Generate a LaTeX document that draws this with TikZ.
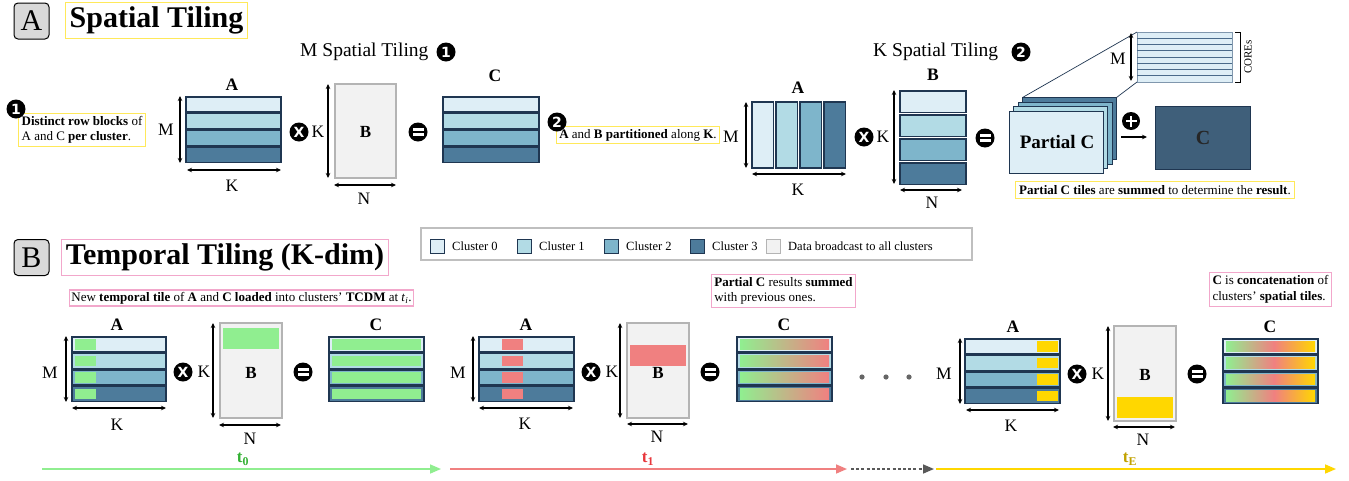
\documentclass[tikz,border=0pt]{standalone}
\usepackage{fontspec}
\setmainfont{Liberation Serif}
\newfontfamily\dv{DejaVu Sans}
\usetikzlibrary{arrows.meta,calc}
\definecolor{cA}{HTML}{DEEEF6}
\definecolor{cB}{HTML}{B2DBE5}
\definecolor{cC}{HTML}{7EB5CB}
\definecolor{cD}{HTML}{4D7B9B}
\definecolor{edge}{HTML}{1F3651}
\definecolor{bfill}{HTML}{F2F2F2}
\definecolor{bedge}{HTML}{B4B4B4}
\definecolor{yel}{HTML}{FFE95A}
\definecolor{pnk}{HTML}{F2A7CB}
\definecolor{grn}{HTML}{90EE90}
\definecolor{cor}{HTML}{F08080}
\definecolor{gld}{HTML}{FFD700}
\definecolor{bigc}{HTML}{3F5F7A}
\definecolor{tilel}{HTML}{4A6A8A}
\definecolor{tzero}{HTML}{34B134}
\definecolor{tone}{HTML}{E8383D}
\definecolor{tend}{HTML}{C2A200}
\pgfdeclarehorizontalshading{gcg}{100bp}{color(0bp)=(grn); color(25bp)=(grn); color(52bp)=(cor); color(75bp)=(gld); color(100bp)=(gld)}
% rows: x, y, width, row height
\newcommand\MyRows[4]{%
  \foreach \i/\c in {0/cA,1/cB,2/cC,3/cD}
    \draw[rowst, fill=\c] (#1,{#2+\i*#4+0.75}) rectangle ++(#3,{#4-1.5});}
% patches inside rows: x, y, patch x, patch width, row height, colour
\newcommand\MyPatch[6]{%
  \foreach \i in {0,1,2,3}
    \fill[#6] (#3,{#2+\i*#5+3}) rectangle ++(#4,{#5-6});}
\begin{document}
\begin{tikzpicture}[x=1pt,y=-1pt,
  rowst/.style={draw=edge, line width=1.5pt},
  bbox/.style={draw=bedge, fill=bfill, line width=1.3pt},
  dim/.style={{Stealth[length=5pt,width=4.5pt]}-{Stealth[length=5pt,width=4.5pt]}, line width=1.1pt},
  lab/.style={font=\fontsize{17.5}{18}\selectfont, inner sep=0pt},
  mlab/.style={font=\fontsize{17.5}{18}\selectfont\bfseries, inner sep=0pt},
  opc/.style={circle, fill=black, inner sep=0pt, minimum size=19pt, text=white},
  num/.style={circle, fill=black, inner sep=0pt, minimum size=19pt, text=white, font=\dv\bfseries\fontsize{14}{14}\selectfont},
  sect/.style={draw=black, fill=black!15, rounded corners=4pt, line width=1pt, minimum width=35pt, minimum height=36pt, inner sep=0pt, font=\fontsize{30}{30}\selectfont},
  ttl/.style={line width=1.2pt, inner sep=4pt, font=\fontsize{30}{34}\selectfont\bfseries},
  note/.style={line width=1.1pt, inner sep=3pt, font=\fontsize{13}{15.5}\selectfont, align=left},
  legsq/.style={draw=edge, line width=1pt, minimum size=14pt, inner sep=0pt},
  legt/.style={font=\fontsize{12.5}{14}\selectfont, anchor=west, inner sep=0pt},
  tl/.style={line width=1.6pt, -{Triangle[length=11pt,width=9pt]}}
]
\useasboundingbox (0,0) rectangle (1349,480);
\fill[white] (0,0) rectangle (1349,480);
\newcommand\OpX[2]{\node[opc, font=\dv\bfseries\fontsize{14}{14}\selectfont] (#1) at #2 {X};}
\newcommand\OpEq[2]{\node[opc] (#1) at #2 {}; \fill[white] ($(#1)+(-5.5,-4)$) rectangle ($(#1)+(5.5,-1.2)$); \fill[white] ($(#1)+(-5.5,1.2)$) rectangle ($(#1)+(5.5,4)$);}

%================ SECTION A =================
\node[sect] (secA) at (31.5,21) {A};
\node[ttl, draw=yel] (ttlA) at (156.5,20.5) {Spatial Tiling};

\node[font=\fontsize{19.5}{20}\selectfont, inner sep=0pt, anchor=west] (mst) at (300,52) {M Spatial Tiling};
\node[num] (mstn) at (446,52) {1};

% note 1
\node[note, draw=yel] (n1) at (82,130) {\textbf{Distinct row blocks} of\\A and C \textbf{per cluster}.};
\node[num] (n1n) at (16,109) {1};

% A
\node[mlab] (aA) at (232,85) {A};
\MyRows{186}{96}{95}{16.75}
\draw[dim] (180,96) -- (180,163);
\node[lab] (aM) at (166,130) {M};
\draw[dim] (187,170) -- (281,170);
\node[lab] (aK) at (232,186) {K};
\OpX{ax}{(299,132)}
\node[lab] (aK2) at (318,132) {K};
% B
\draw[bbox] (335,84) rectangle (396,178);
\node[mlab, font=\fontsize{17}{18}\selectfont\bfseries] (aB) at (365.5,132) {B};
\draw[dim] (328,84) -- (328,178);
\draw[dim] (334,185) -- (396,185);
\node[lab] (aN) at (364,199) {N};
\OpEq{aeq}{(418,132)}
% C
\node[mlab] (aC) at (495,76) {C};
\MyRows{443}{96}{96}{16.75}

% note 2
\node[note, draw=yel, inner sep=2.5pt] (n2) at (638,135) {\textbf{A} and \textbf{B partitioned} along \textbf{K}.};
\node[num] (n2n) at (557,122) {2};

\node[font=\fontsize{19.5}{20}\selectfont, inner sep=0pt, anchor=west] (kst) at (873,52) {K Spatial Tiling};
\node[num] (kstn) at (1021,52) {2};

% A (K tiling)
\node[mlab] (kA) at (798,88) {A};
\foreach \j/\c in {0/cA,1/cB,2/cC,3/cD}
  \draw[draw=edge, line width=1.2pt, fill=\c] ({752+\j*24},102) rectangle ++(21.5,66);
\draw[dim] (746,102) -- (746,168);
\node[lab] (kM) at (731,137) {M};
\draw[dim] (752,174) -- (846,174);
\node[lab] (kK) at (798,190) {K};
\OpX{kx}{(864,137)}
\node[lab] (kK2) at (883,137) {K};
% B (K tiling)
\node[mlab] (kB) at (933,75) {B};
\foreach \i/\c in {0/cA,1/cB,2/cC,3/cD}
  \draw[draw=edge, line width=1.2pt, fill=\c] (900,{91+\i*24}) rectangle ++(66,21.5);
\draw[dim] (894,90) -- (894,184);
\draw[dim] (900,190) -- (962,190);
\node[lab] (kN) at (932,203) {N};
\OpEq{keq}{(985,138)}
% partial C stack
\foreach \o/\c in {13.5/cD,9/cC,4.5/cB,0/cA}
  \draw[draw=edge, line width=1pt, fill=\c] ({1009+\o},{111-\o}) rectangle ++(94,62);
\coordinate (pctl) at (1022.5,97.5);
\coordinate (pctr) at (1116.5,97.5);
\node[font=\fontsize{19}{22}\selectfont\bfseries, inner sep=0pt] (pcl) at (1057,142) {Partial C};
% zoomed tile
\draw[draw=tilel!70, line width=1pt, fill=cA] (1137,32) rectangle (1232,82);
\foreach \k in {1,...,7}
  \draw[tilel, line width=0.9pt] (1137,{32+\k*6.25}) -- (1232,{32+\k*6.25});
\coordinate (ttl) at (1137,32);
\coordinate (tbl) at (1137,82);
\draw[edge, line width=0.7pt] (pctl) -- (ttl);
\draw[edge, line width=0.7pt] (pctr) -- (tbl);
\draw[dim] (1131,33) -- (1131,81);
\node[lab] (tM) at (1118,59) {M};
\draw[line width=0.8pt] (1235,32) -- (1240,32) -- (1240,82) -- (1235,82);
\node[rotate=90, font=\fontsize{11}{12}\selectfont, inner sep=0pt] (cores) at (1248,57) {COREs};
% plus
\node[opc, minimum size=18pt] (plus) at (1131,121) {};
\fill[white] ($(plus)+(-5.5,-1.4)$) rectangle ($(plus)+(5.5,1.4)$);
\fill[white] ($(plus)+(-1.4,-5.5)$) rectangle ($(plus)+(1.4,5.5)$);
\coordinate (pa1) at (1121,137);
\coordinate (pa2) at (1147,137);
\draw[line width=1.1pt, -{Stealth[length=5pt,width=4.5pt]}] (pa1) -- (pa2);
% big C
\draw[draw=edge, line width=1pt, fill=bigc] (1155,106) rectangle (1250,169);
\node[font=\fontsize{20}{22}\selectfont\bfseries, text=black!85, inner sep=0pt] (bigC) at (1203,138) {C};
\node[note, draw=yel, inner sep=4pt] (n3) at (1155,190) {\textbf{Partial C tiles} are \textbf{summed} to determine the \textbf{result}.};

%================ SECTION B =================
\node[sect] (secB) at (31.5,257.5) {B};
\node[ttl, draw=pnk] (ttlB) at (225,257.5) {Temporal Tiling (K-dim)};

% legend
\draw[draw=black!25, line width=1.6pt] (421,228) rectangle (972,260);
\node[legsq, fill=cA] (l0) at (437,246) {};
\node[legt] (l0t) at (452,246) {Cluster 0};
\node[legsq, fill=cB] (l1) at (524,246) {};
\node[legt] (l1t) at (539,246) {Cluster 1};
\node[legsq, fill=cC] (l2) at (611,246) {};
\node[legt] (l2t) at (626,246) {Cluster 2};
\node[legsq, fill=cD] (l3) at (697,246) {};
\node[legt] (l3t) at (712,246) {Cluster 3};
\node[legsq, fill=bfill, draw=bedge] (l4) at (773,246) {};
\node[legt] (l4t) at (788,246) {Data broadcast to all clusters};

% notes
\node[note, draw=pnk, inner sep=2pt] (n4) at (241.5,298) {New \textbf{temporal tile} of \textbf{A} and \textbf{C loaded} into clusters' \textbf{TCDM} at \textit{t}\textsubscript{\textit{i}}.};
\node[note, draw=pnk] (n5) at (783.5,291) {\textbf{Partial C} results \textbf{summed}\\with previous ones.};
\node[note, draw=pnk] (n6) at (1270.5,289.5) {\textbf{C} is \textbf{concatenation} of\\clusters' \textbf{spatial tiles}.};

% ---- t0 ----
\node[mlab] (A0) at (117,325) {A};
\MyRows{72}{336}{94}{16.5}
\MyPatch{72}{336}{75}{21}{16.5}{grn}
\draw[dim] (66,336) -- (66,402);
\node[lab] (M0) at (50,373) {M};
\draw[dim] (72,408) -- (166,408);
\node[lab] (K0) at (117,425) {K};
\OpX{x0}{(183,372)}
\node[lab] (K0b) at (204,372) {K};
\draw[bbox] (220,323) rectangle (282,418);
\fill[grn] (223,328) rectangle (279,349);
\node[mlab, font=\fontsize{17}{18}\selectfont\bfseries] (B0) at (251,373) {B};
\draw[dim] (213,323) -- (213,418);
\draw[dim] (219,425) -- (281,425);
\node[lab] (N0) at (250,439) {N};
\OpEq{e0}{(303,372)}
\node[mlab] (C0) at (376,325) {C};
\MyRows{329}{336}{95}{16.5}
\foreach \i in {0,1,2,3}
  \fill[grn] (332,{336+\i*16.5+3}) rectangle ++(89,10.5);

% ---- t1 ----
\node[mlab] (A1) at (526,325) {A};
\MyRows{479}{336}{95}{16.5}
\MyPatch{479}{336}{502}{21}{16.5}{cor}
\draw[dim] (473,336) -- (473,402);
\node[lab] (M1) at (458,373) {M};
\draw[dim] (479,408) -- (573,408);
\node[lab] (K1) at (525,424) {K};
\OpX{x1}{(591,372)}
\node[lab] (K1b) at (612,372) {K};
\draw[bbox] (627,323) rectangle (689,418);
\fill[cor] (630,345) rectangle (686,366);
\node[mlab, font=\fontsize{17}{18}\selectfont\bfseries] (B1) at (658,373) {B};
\draw[dim] (620,323) -- (620,418);
\draw[dim] (627,424) -- (688,424);
\node[lab] (N1) at (657,437) {N};
\OpEq{e1}{(710,372)}
\node[mlab] (C1) at (784,325) {C};
\MyRows{737}{336}{95}{16.5}
\foreach \i in {0,1,2,3}
  \shade[left color=grn, right color=cor] (740,{336+\i*16.5+3}) rectangle ++(89,10.5);

% dots
\foreach \xx [count=\n] in {862,886,909}
  \fill[black!60] (\xx,377) circle (2.6) coordinate (dot\n);

% ---- tE ----
\node[mlab] (A2) at (1013,327) {A};
\MyRows{965}{338}{95}{16.5}
\MyPatch{965}{338}{1037}{21}{16.5}{gld}
\draw[dim] (960,338) -- (960,404);
\node[lab] (M2) at (944,374) {M};
\draw[dim] (966,410) -- (1059,410);
\node[lab] (K2) at (1011,426) {K};
\OpX{x2}{(1077,374)}
\node[lab] (K2b) at (1098,374) {K};
\draw[bbox] (1114,326) rectangle (1176,421);
\fill[gld] (1117,397) rectangle (1173,418);
\node[mlab, font=\fontsize{17}{18}\selectfont\bfseries] (B2) at (1145,375) {B};
\draw[dim] (1108,326) -- (1108,421);
\draw[dim] (1113,427) -- (1175,427);
\node[lab] (N2) at (1143,440) {N};
\OpEq{e2}{(1197,374)}
\node[mlab] (C2) at (1270,327) {C};
\MyRows{1223}{338}{95}{16.5}
\foreach \i in {0,1,2,3}
  \shade[shading=gcg] (1226,{338+\i*16.5+3}) rectangle ++(89,10.5);

% ---- timeline ----
\coordinate (tl0a) at (42,469); \coordinate (tl0b) at (441,469);
\coordinate (tl1a) at (450,469); \coordinate (tl1b) at (847,469);
\coordinate (tl2a) at (851,469); \coordinate (tl2b) at (934,469);
\coordinate (tl3a) at (936,469); \coordinate (tl3b) at (1336,469);
\draw[tl, grn] (tl0a) -- (tl0b);
\draw[tl, cor] (tl1a) -- (tl1b);
\draw[tl, black!65, dash pattern=on 3pt off 2.2pt] (tl2a) -- (tl2b);
\draw[tl, gld] (tl3a) -- (tl3b);
\node[font=\fontsize{17}{18}\selectfont\bfseries, text=tzero, inner sep=0pt] (t0) at (243,459) {t\textsubscript{0}};
\node[font=\fontsize{17}{18}\selectfont\bfseries, text=tone, inner sep=0pt] (t1) at (648,459) {t\textsubscript{1}};
\node[font=\fontsize{17}{18}\selectfont\bfseries, text=tend, inner sep=0pt] (tE) at (1130,459) {t\textsubscript{E}};
\end{tikzpicture}
\end{document}
